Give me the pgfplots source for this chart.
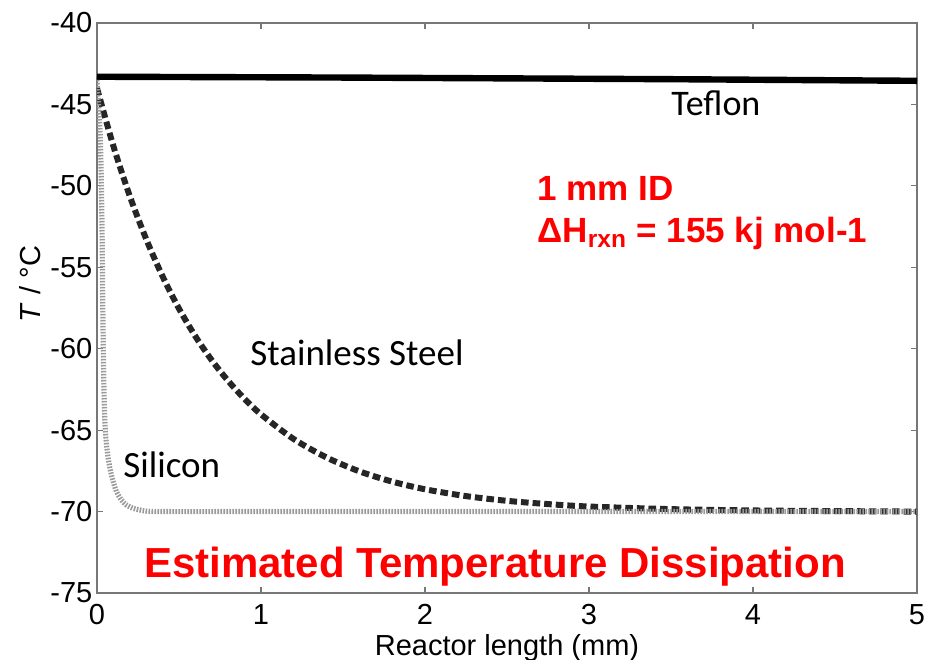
\documentclass[border=0pt]{standalone}
\usepackage{fontspec}
\setmainfont{Liberation Sans}
\newfontfamily\carlitofont{Carlito}
\usepackage{pgfplots}
\pgfplotsset{compat=1.18}
\definecolor{axgray}{HTML}{777777}
\definecolor{sigray}{HTML}{9A9A9A}
\begin{document}
\begin{tikzpicture}
\useasboundingbox (-48.5pt,-33pt) rectangle (416pt,296.5pt);
\begin{axis}[
  at={(0,0)}, anchor=south west,
  scale only axis, width=410pt, height=285pt,
  xmin=0, xmax=5, ymin=-75, ymax=-40,
  xtick={0,1,2,3,4,5}, ytick={-75,-70,-65,-60,-55,-50,-45,-40},
  tick align=inside, major tick length=3pt,
  axis line style={axgray, line width=0.8pt},
  every tick/.style={axgray, line width=0.6pt},
  /pgf/number format/assume math mode=true,
  tick label style={font=\fontsize{14.5}{16}\selectfont},
  yticklabel style={xshift=1.2pt},
  xticklabel style={yshift=-2pt},
  xlabel={Reactor length (mm)},
  xlabel style={font=\fontsize{14.5}{16}\selectfont, at={(axis description cs:0.5,0)}, anchor=base, yshift=-31pt},
  ylabel={\textit{T} / °C},
  ylabel style={font=\fontsize{14.5}{16}\selectfont, at={(axis description cs:-0.082,0.542)}, anchor=center},
  clip=true,
]
% Teflon
\addplot[black, line width=3.2pt] coordinates {(0,-43.3) (1.5,-43.35) (3.5,-43.45) (5,-43.55)};
% Stainless steel
\addplot[black!85, line width=3pt, dash pattern=on 3.8pt off 2pt, smooth] coordinates {
(0,-44.0) (0.1,-47.56) (0.2,-50.63) (0.3,-53.27) (0.4,-55.56) (0.5,-57.54)
(0.6,-59.24) (0.7,-60.71) (0.8,-61.98) (0.9,-63.08) (1.0,-64.03) (1.2,-65.55)
(1.4,-66.68) (1.6,-67.53) (1.8,-68.16) (2.0,-68.63) (2.25,-69.05) (2.5,-69.34)
(2.75,-69.54) (3.0,-69.69) (3.5,-69.85) (4.0,-69.93) (4.5,-69.97) (5.0,-70.0)};
% Silicon
\addplot[sigray, line width=2.6pt, dash pattern=on 0.8pt off 0.7pt, smooth] coordinates {
(0.0,-43.5) (0.02,-47) (0.03,-52) (0.035,-57) (0.04,-61) (0.045,-63.5) (0.052,-65.2)
(0.065,-66.5) (0.08,-67.4) (0.1,-68.2) (0.12,-68.8) (0.15,-69.3) (0.18,-69.6)
(0.22,-69.8) (0.26,-69.9) (0.3,-69.97) (0.4,-70) (1,-70) (2,-70) (3,-70) (4,-70) (5,-70)};
\node[anchor=base, inner sep=0, font=\carlitofont\fontsize{18}{20}\selectfont] at (axis cs:3.774,-45.65) {Teflon};
\node[anchor=base west, inner sep=0, font=\carlitofont\fontsize{18.5}{20}\selectfont] at (axis cs:0.933,-61.0) {Stainless Steel};
\node[anchor=base west, inner sep=0, font=\carlitofont\fontsize{18.5}{20}\selectfont] at (axis cs:0.159,-67.88) {Silicon};
\node[anchor=base, inner sep=0, text=red, font=\bfseries\fontsize{21}{24}\selectfont] at (axis cs:2.427,-74.02) {Estimated Temperature Dissipation};
\node[anchor=base west, inner sep=0, text=red, font=\bfseries\fontsize{17.5}{20}\selectfont] at (axis cs:2.683,-50.87) {1 mm ID};
\node[anchor=base west, inner sep=0, text=red, font=\bfseries\fontsize{17.5}{20}\selectfont] at (axis cs:2.683,-53.45) {ΔH\textsubscript{rxn} = 155 kj mol-1};
\end{axis}
\end{tikzpicture}
\end{document}
